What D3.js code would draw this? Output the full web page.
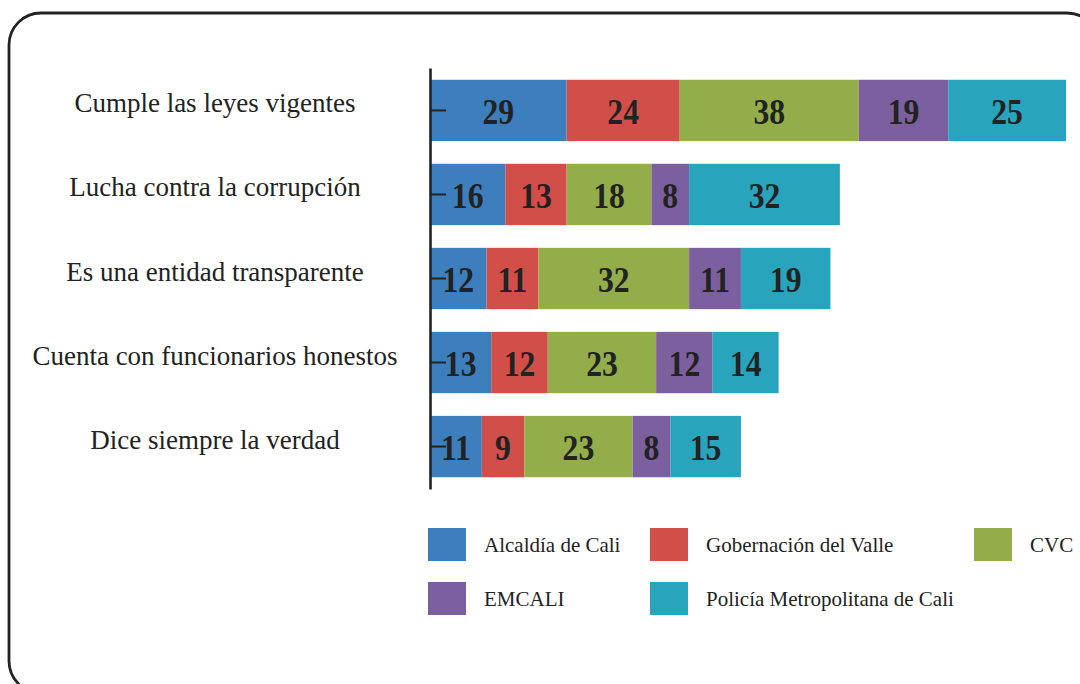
<!DOCTYPE html>
<html><head><meta charset="utf-8">
<script src="https://cdn.jsdelivr.net/npm/d3@7"></script>
<style>body{margin:0;background:#fff}svg{display:block}</style>
</head><body>
<svg id="c" width="1080" height="684"></svg>
<script>
const categories = ["Cumple las leyes vigentes","Lucha contra la corrupción","Es una entidad transparente","Cuenta con funcionarios honestos","Dice siempre la verdad"];
const seriesNames = ["Alcaldía de Cali","Gobernación del Valle","CVC","EMCALI","Policía Metropolitana de Cali"];
const alcaldia = [29,16,12,13,11];
const gobernacion = [24,13,11,12,9];
const cvc = [38,18,32,23,23];
const emcali = [19,8,11,12,8];
const policia = [25,32,19,14,15];
const colors = ["#3d7ebd","#d14f48","#93ad4a","#7b5f9e","#29a4bd"];

const seriesVals = [alcaldia,gobernacion,cvc,emcali,policia];
const rows = categories.map((c,i)=>{const o={cat:c}; seriesNames.forEach((s,j)=>o[s]=seriesVals[j][i]); return o;});
const stack = d3.stack().keys(seriesNames)(rows);

const svg = d3.select("#c");
svg.append("rect").attr("x",9).attr("y",13).attr("width",1090).attr("height",680)
  .attr("rx",32).attr("fill","none").attr("stroke","#222").attr("stroke-width",2.8);

const x0 = 430;
const x = d3.scaleLinear().domain([0,135]).range([x0,1066]);
const y = d3.scaleBand().domain(categories).range([68,489]).paddingInner(0.27).paddingOuter(0.14);

const g = svg.append("g");
stack.forEach((s,j)=>{
  g.selectAll(null).data(s).enter().append("rect")
    .attr("x",d=>x(d[0])).attr("y",d=>y(d.data.cat))
    .attr("width",d=>x(d[1])-x(d[0])).attr("height",y.bandwidth())
    .attr("fill",colors[j]);
  g.selectAll(null).data(s).enter().append("text")
    .attr("transform",d=>`translate(${(x(d[0])+x(d[1]))/2},${y(d.data.cat)+y.bandwidth()/2}) scale(0.88,1)`)
    .attr("dy","0.37em").attr("text-anchor","middle")
    .attr("font-family","'Liberation Serif',serif").attr("font-weight","bold")
    .attr("font-size",36).attr("fill","#222")
    .text(d=>d[1]-d[0]);
});

const axis = d3.axisRight(y).tickSize(16).tickSizeOuter(0).tickFormat("");
const ag = svg.append("g").attr("transform",`translate(${x0},0)`).call(axis);
ag.select(".domain").attr("stroke","#222").attr("stroke-width",2.6);
ag.selectAll(".tick line").attr("stroke","#222").attr("stroke-width",2);

svg.append("g").selectAll("text").data(categories).enter().append("text")
  .attr("x",215).attr("y",d=>y(d)+y.bandwidth()/2+2)
  .attr("text-anchor","middle")
  .attr("font-family","'Liberation Serif',serif").attr("font-size",27).attr("fill","#222")
  .text(d=>d);

const legendPos = [[428,528],[650,528],[974,528],[428,582],[650,582]];
const lg = svg.append("g");
seriesNames.forEach((s,j)=>{
  const [lx,ly]=legendPos[j];
  lg.append("rect").attr("x",lx).attr("y",ly).attr("width",38).attr("height",33).attr("fill",colors[j]);
  lg.append("text").attr("x",lx+56).attr("y",ly+24)
    .attr("font-family","'Liberation Serif',serif").attr("font-size",21).attr("fill","#222").text(s);
});
</script>
</body></html>
